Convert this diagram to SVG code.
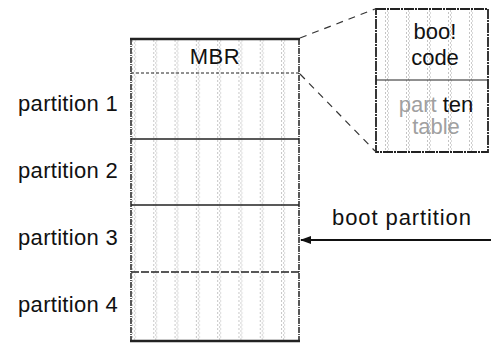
<svg xmlns="http://www.w3.org/2000/svg" width="491" height="343" viewBox="0 0 491 343">
  <style>
    .lbl { font-family: "Liberation Sans", Arial, sans-serif; font-size: 22px; fill: #111; }
    .faint { fill: #a0a0a0; }
    .edge { stroke: #222; fill: none; }
    .dash { stroke: #333; stroke-width: 1.2; stroke-dasharray: 7 6; fill: none; }
  </style>
  <defs>
    <pattern id="tex" x="131" y="0" width="21.3" height="4" patternUnits="userSpaceOnUse">
      <rect x="1" y="0.5" width="1" height="1" fill="#8a8a8a"/>
      <rect x="3" y="2.5" width="1" height="1" fill="#9a9a9a"/>
      <rect x="4" y="0.5" width="1" height="1" fill="#b5b5b5"/>
    </pattern>
    <pattern id="tex2" x="376" y="0" width="21" height="4" patternUnits="userSpaceOnUse">
      <rect x="9" y="0.5" width="1" height="1" fill="#8a8a8a"/>
      <rect x="11" y="2.5" width="1" height="1" fill="#9a9a9a"/>
      <rect x="12" y="0.5" width="1" height="1" fill="#b5b5b5"/>
    </pattern>
    <marker id="arr" markerWidth="11" markerHeight="8" refX="10" refY="4" orient="auto" markerUnits="userSpaceOnUse">
      <path d="M0,0 L11,4 L0,8 Z" fill="#111"/>
    </marker>
  </defs>

  <g id="disk">
    <rect x="131" y="39" width="168" height="302" fill="url(#tex)"/>
    <line class="edge" x1="131" y1="39" x2="131" y2="341" stroke-width="1.5" stroke-dasharray="6 1 1 1"/>
    <line class="edge" x1="299" y1="39" x2="299" y2="341" stroke-width="1.5" stroke-dasharray="6 1 1 1"/>
    <line class="edge" x1="130" y1="39" x2="300" y2="39" stroke-width="2.5"/>
    <line class="edge" x1="130" y1="341" x2="300" y2="341" stroke-width="2.5"/>
  </g>

  <g id="mbr">
    <line class="edge" x1="131" y1="73" x2="299" y2="73" stroke-width="1" stroke-dasharray="3 2"/>
    <text class="lbl" x="215" y="64" text-anchor="middle" letter-spacing="0.5">MBR</text>
  </g>

  <g id="partition1">
    <line class="edge" x1="131" y1="139" x2="299" y2="139" stroke-width="1.5"/>
    <text class="lbl" x="118" y="111" text-anchor="end" letter-spacing="0.3">partition 1</text>
  </g>
  <g id="partition2">
    <line class="edge" x1="131" y1="205" x2="299" y2="205" stroke-width="1.5"/>
    <text class="lbl" x="118" y="178" text-anchor="end" letter-spacing="0.3">partition 2</text>
  </g>
  <g id="partition3">
    <line class="edge" x1="131" y1="272" x2="299" y2="272" stroke-width="1.5" stroke-dasharray="8 2"/>
    <text class="lbl" x="118" y="245" text-anchor="end" letter-spacing="0.3">partition 3</text>
  </g>
  <g id="partition4">
    <text class="lbl" x="118" y="312" text-anchor="end" letter-spacing="0.3">partition 4</text>
  </g>

  <g id="mbr-detail">
    <rect x="376" y="9" width="112" height="143" fill="url(#tex2)"/>
    <rect x="376" y="9" width="112" height="143" class="edge" stroke-width="1.8" stroke-dasharray="10 1 2 1"/>
    <line class="edge" x1="376" y1="80" x2="488" y2="80" stroke-width="1"/>
    <text class="lbl" x="435" y="39" text-anchor="middle" font-size="21">boo!</text>
    <text class="lbl" x="435" y="65" text-anchor="middle" font-size="21">code</text>
    <text class="lbl" x="436" y="112" text-anchor="middle" font-size="21"><tspan class="faint">part</tspan> ten</text>
    <text class="lbl faint" x="436" y="134" text-anchor="middle" font-size="21">table</text>
  </g>

  <g id="boot-label">
    <text class="lbl" x="402" y="225" text-anchor="middle" letter-spacing="0.9">boot partition</text>
  </g>

  <g id="connectors">
    <line class="dash" x1="300" y1="38" x2="375" y2="9"/>
    <line class="dash" x1="300" y1="74" x2="375" y2="151"/>
    <line x1="491" y1="240" x2="301" y2="240" stroke="#111" stroke-width="2.2" marker-end="url(#arr)"/>
  </g>
</svg>
